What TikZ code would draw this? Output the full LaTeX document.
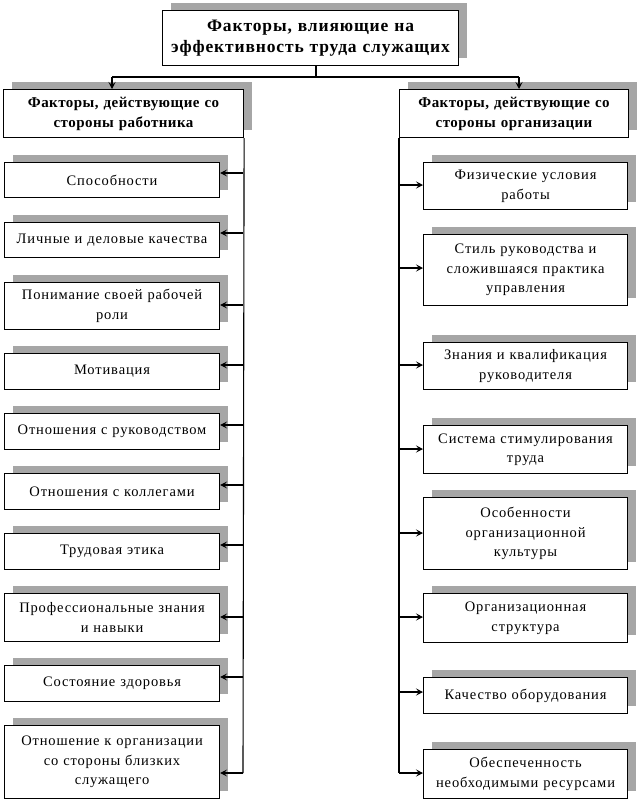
\documentclass[tikz,border=0pt]{standalone}
\usepackage{fontspec}
\setmainfont{Liberation Serif}[LetterSpace=6]
\newfontfamily\hdfont{Liberation Serif}[LetterSpace=3]
\newfontfamily\ttlfont{Liberation Serif}[LetterSpace=5]
\usetikzlibrary{arrows.meta,shadows}
\tikzset{
  box/.style={draw, line width=1.1pt, fill=white, inner sep=0pt, anchor=north west, align=center,
    general shadow={fill=black!35, shadow xshift=8pt, shadow yshift=8pt}},
  lbox/.style={box, minimum width=215pt, text width=210pt, font=\fontsize{14.5}{19.5}\selectfont},
  rbox/.style={box, minimum width=204pt, text width=200pt, font=\fontsize{14.5}{19.5}\selectfont},
  hbox/.style={box, font=\hdfont\bfseries\fontsize{15}{20}\selectfont},
  ln/.style={line width=1.1pt},
  arr/.style={line width=1.1pt, -{Stealth[length=7pt,width=7pt,inset=3pt]}},
}
\begin{document}
\begin{tikzpicture}[x=1pt,y=-1pt]
\useasboundingbox (0,0) rectangle (637,801);
% top
\node[hbox, minimum width=296pt, minimum height=55pt, text width=294pt, font=\ttlfont\bfseries\fontsize{17.5}{21}\selectfont] (T) at (162,10) {Факторы, влияющие на\\эффективность труда служащих};
% headers
\node[hbox, minimum width=240pt, minimum height=48pt, text width=238pt] (HL) at (3,89) {Факторы, действующие со\\стороны работника};
\node[hbox, minimum width=229pt, minimum height=48pt, text width=227pt] (HR) at (399,89) {Факторы, действующие со\\стороны организации};
% left boxes
\node[lbox, minimum height=35pt] (L1) at (4,162) {Способности};
\node[lbox, minimum height=35pt] (L2) at (4,222) {Личные и деловые качества};
\node[lbox, minimum height=47pt] (L3) at (4,282) {Понимание своей рабочей\\роли};
\node[lbox, minimum height=36pt] (L4) at (4,353) {Мотивация};
\node[lbox, minimum height=36pt] (L5) at (4,413) {Отношения с руководством};
\node[lbox, minimum height=36pt] (L6) at (4,473) {Отношения с коллегами};
\node[lbox, minimum height=36pt] (L7) at (4,533) {Трудовая этика};
\node[lbox, minimum height=48pt] (L8) at (4,593) {Профессиональные знания\\и навыки};
\node[lbox, minimum height=36pt] (L9) at (4,665) {Состояние здоровья};
\node[lbox, minimum height=73pt] (L10) at (4,725) {Отношение к организации\\со стороны близких\\служащего};
% right boxes
\node[rbox, minimum height=47pt] (R1) at (423,162) {Физические условия\\работы};
\node[rbox, minimum height=71pt] (R2) at (423,234) {Стиль руководства и\\сложившаяся практика\\управления};
\node[rbox, minimum height=47pt] (R3) at (423,342) {Знания и квалификация\\руководителя};
\node[rbox, minimum height=48pt] (R4) at (423,425) {Система стимулирования\\труда};
\node[rbox, minimum height=72pt] (R5) at (423,497) {Особенности\\организационной\\культуры};
\node[rbox, minimum height=49pt] (R6) at (423,593) {Организационная\\структура};
\node[rbox, minimum height=36pt] (R7) at (423,677) {Качество оборудования};
\node[rbox, minimum height=49pt] (R8) at (423,749) {Обеспеченность\\необходимыми ресурсами};
% top connectors
\coordinate (tb) at (316,65);
\coordinate (tm) at (316,77);
\coordinate (tl) at (112,77);
\coordinate (tr) at (519,77);
\draw[ln] (tb) -- (tm);
\draw[ln] (tl) -- (tr);
\draw[arr] (tl) -- (tl |- HL.north);
\draw[arr] (tr) -- (tr |- HR.north);
% left spine
\coordinate (lend) at (243,773);
\draw[ln] (HL.south east) -- (lend);
\foreach \n/\y in {L1/173,L2/233,L3/305,L4/365,L5/425,L6/485,L7/545,L8/617,L9/677,L10/773}{
  \coordinate (a\n) at (243,\y);
  \draw[arr] (a\n) -- (\n.east |- a\n);
}
% right spine
\coordinate (rend) at (399,773);
\draw[ln] (HR.south west) -- (rend);
\foreach \n/\y in {R1/185,R2/268,R3/365,R4/449,R5/533,R6/617,R7/692,R8/773}{
  \coordinate (a\n) at (399,\y);
  \draw[arr] (a\n) -- (\n.west |- a\n);
}
\end{tikzpicture}
\end{document}
